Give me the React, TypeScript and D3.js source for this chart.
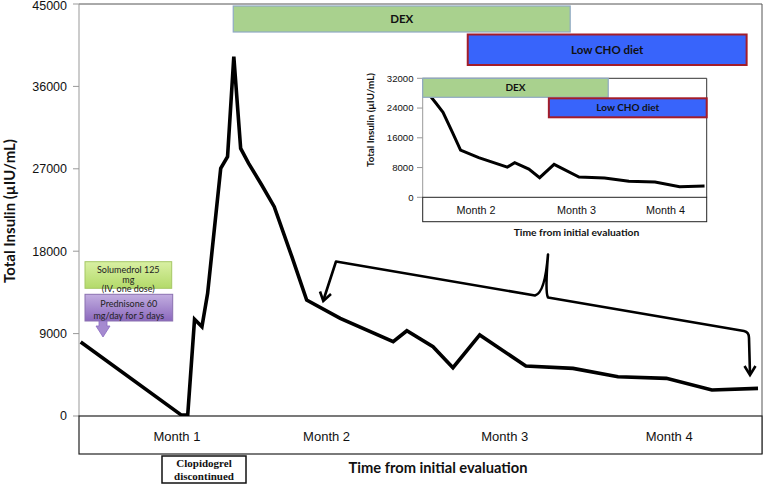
import React from "react";
import * as d3 from "d3";

// ---- data ----
const days = [0.3, 18.0, 19.1, 20.3, 21.6, 22.6, 24.9, 26.1, 27.2, 28.4, 29.8, 32.1, 34.3, 37.4, 40.0, 45.9, 55.2, 57.6, 62.2, 65.7, 70.4, 78.5, 86.8, 94.7, 103.2, 111.2, 119.3];
const insulin = [8080, 100, 100, 10560, 9750, 13400, 27050, 28320, 39240, 29230, 27600, 25230, 22860, 17400, 12670, 10670, 8110, 9310, 7570, 5280, 8850, 5460, 5200, 4290, 4110, 2840, 3020];

const yTicksMain = [0, 9000, 18000, 27000, 36000, 45000];
const yTicksInset = [0, 8000, 16000, 24000, 32000];

const monthLabels = ["Month 1", "Month 2", "Month 3", "Month 4"];
const monthDaysMain = [17.2, 43.5, 74.8, 103.7];
const insetMonthLabels = ["Month 2", "Month 3", "Month 4"];
const monthDaysInset = [45.0, 77.7, 106.6];

const barNames = ["DEX", "Low CHO diet"];
const barStartMain = [27.1, 68.3];
const barEndMain = [86.3, 117.3];
const barStartInset = [27.7, 68.7];
const barEndInset = [88.0, 120.0];

const FONT_SANS = "'Liberation Sans', Arial, sans-serif";
const FONT_CAL = "Lato, 'Open Sans', sans-serif";

export default function App() {
  // main scales
  const x = d3.scaleLinear().domain([0, 120]).range([79, 762]);
  const y = d3.scaleLinear().domain([0, 45000]).range([416, 4]);
  // inset scales
  const xi = d3.scaleLinear().domain([27.7, 120]).range([422.7, 706.7]);
  const yi = d3.scaleLinear().domain([0, 32000]).range([197.3, 78.3]);

  const pts = days.map((d, i) => [d, insulin[i]] as [number, number]);
  const lineMain = d3.line<[number, number]>().x((d) => x(d[0])).y((d) => y(d[1]))(pts) || "";
  const lineInset = d3.line<[number, number]>().x((d) => xi(d[0])).y((d) => yi(d[1]))(pts) || "";

  const barFill = ["#a9d18e", "#3864fb"];
  const barStroke = ["#8fa9c4", "#a31d2a"];
  const barStrokeW = [1.2, 2];

  const bracket =
    "M323.3,300.5 L336,261.5 L535,295.5 Q545,293 548,254.5 Q545,293 548,297.5 L744,331 Q749,332 749,338 L750,374";

  return (
    <svg
      width={766}
      height={488}
      style={{ position: "absolute", left: 0, top: 0, background: "#fff" }}
    >
      <defs>
        <linearGradient id="gGreen" x1="0" y1="0" x2="0" y2="1">
          <stop offset="0" stopColor="#d9f0a3" />
          <stop offset="1" stopColor="#b3da6a" />
        </linearGradient>
        <linearGradient id="gPurple" x1="0" y1="0" x2="0" y2="1">
          <stop offset="0" stopColor="#c2aee0" />
          <stop offset="1" stopColor="#8b68bd" />
        </linearGradient>
        <clipPath id="insetClip">
          <rect x={422.7} y={78.3} width={284} height={119} />
        </clipPath>
        <clipPath id="mainClip">
          <rect x={79} y={4} width={683} height={412} />
        </clipPath>
      </defs>

      {/* main plot frame */}
      <line x1={79} x2={762} y1={4} y2={4} stroke="#555" strokeWidth={1} />
      <line x1={762} x2={762} y1={4} y2={454} stroke="#555" strokeWidth={1} />
      <line x1={79} x2={79} y1={4} y2={416} stroke="#999" strokeWidth={1} />
      {yTicksMain.map((t) => (
        <g key={t}>
          <line x1={73} x2={79} y1={y(t)} y2={y(t)} stroke="#999" />
          <text x={67} y={Math.max(y(t), 6)} dy="0.35em" textAnchor="end" fontFamily={FONT_SANS} fontSize={12.5} fill="#111">
            {t}
          </text>
        </g>
      ))}
      {/* category box */}
      <rect x={79} y={416} width={683} height={38} fill="#fff" stroke="#222" strokeWidth={1.2} />
      {monthLabels.map((m, i) => (
        <text key={m} x={x(monthDaysMain[i])} y={441} textAnchor="middle" fontFamily={FONT_SANS} fontSize={13} fill="#111">
          {m}
        </text>
      ))}
      <text x={438} y={473} textAnchor="middle" fontFamily={FONT_CAL} fontWeight="bold" fontSize={14.7} fill="#111">
        Time from initial evaluation
      </text>
      <text
        transform="translate(15,211) rotate(-90)"
        textAnchor="middle"
        fontFamily={FONT_CAL}
        fontWeight="bold"
        fontSize={15}
        fill="#111"
      >
        Total Insulin (µIU/mL)
      </text>

      {/* main line */}
      <path d={lineMain} fill="none" stroke="#000" strokeWidth={3.6} strokeLinejoin="miter" strokeMiterlimit={10} clipPath="url(#mainClip)" />

      {/* main intervention bars */}
      {barNames.map((n, i) => {
        const top = i === 0 ? 6 : 34.5;
        const h = i === 0 ? 26 : 30.5;
        return (
          <g key={n}>
            <rect
              x={x(barStartMain[i])}
              y={top}
              width={x(barEndMain[i]) - x(barStartMain[i])}
              height={h}
              fill={barFill[i]}
              stroke={barStroke[i]}
              strokeWidth={barStrokeW[i]}
            />
            <text
              x={(x(barStartMain[i]) + x(barEndMain[i])) / 2}
              y={top + h / 2}
              dy="0.35em"
              textAnchor="middle"
              fontFamily={FONT_CAL}
              fontWeight="bold"
              fontSize={11.5}
              fill="#111"
            >
              {n}
            </text>
          </g>
        );
      })}

      {/* Solumedrol box */}
      <rect x={85} y={261.7} width={86.7} height={26.6} fill="url(#gGreen)" stroke="#a6c765" strokeWidth={1} />
      <g fontFamily={FONT_CAL} fontSize={9} fill="#222" textAnchor="middle">
        <text x={128.3} y={273}>Solumedrol 125</text>
        <text x={128.3} y={282.5}>mg</text>
        <text x={128.3} y={292}>(IV, one dose)</text>
      </g>
      {/* Prednisone box */}
      <rect x={85} y={294.3} width={87.7} height={26.7} fill="url(#gPurple)" stroke="#8a70b0" strokeWidth={1} />
      <g fontFamily={FONT_CAL} fontSize={9} fill="#222" textAnchor="middle">
        <text x={128.8} y={307}>Prednisone 60</text>
        <text x={128.8} y={318.5}>mg/day for 5 days</text>
      </g>
      <path d="M99,321 L107,321 L107,326 L110,326 L103,337 L96,326 L99,326 Z" fill="#a58ad0" stroke="#8a6cc0" strokeWidth={0.8} />

      {/* Clopidogrel box */}
      <rect x={162} y={456} width={84} height={27} fill="#fff" stroke="#111" strokeWidth={1.5} />
      <g fontFamily="'Liberation Serif', 'Times New Roman', serif" fontWeight="bold" fontSize={11} fill="#111" textAnchor="middle">
        <text x={204} y={467}>Clopidogrel</text>
        <text x={204} y={480}>discontinued</text>
      </g>

      {/* bracket with arrows */}
      <path d={bracket} fill="none" stroke="#000" strokeWidth={2.6} strokeLinejoin="round" />
      <path d="M320,291.5 L323.3,301 L331,294" fill="none" stroke="#000" strokeWidth={2.6} strokeLinejoin="miter" />
      <path d="M744.5,366 L750,375 L755.5,366" fill="none" stroke="#000" strokeWidth={2.6} strokeLinejoin="miter" />

      {/* ---- inset ---- */}
      <rect x={422.7} y={78.3} width={284} height={119} fill="#fff" />
      <line x1={422.7} x2={706.7} y1={78.3} y2={78.3} stroke="#333" strokeWidth={1} />
      <line x1={706.7} x2={706.7} y1={78.3} y2={197.3} stroke="#333" strokeWidth={1} />
      <line x1={422.7} x2={422.7} y1={78.3} y2={197.3} stroke="#999" strokeWidth={1} />
      {yTicksInset.map((t) => (
        <g key={t}>
          <line x1={417} x2={422.7} y1={yi(t)} y2={yi(t)} stroke="#999" />
          <text x={413.5} y={yi(t)} dy="0.35em" textAnchor="end" fontFamily={FONT_SANS} fontSize={9.6} fill="#111">
            {t}
          </text>
        </g>
      ))}
      <rect x={422.7} y={197.3} width={284} height={24.4} fill="#fff" stroke="#222" strokeWidth={1} />
      {insetMonthLabels.map((m, i) => (
        <text key={m} x={xi(monthDaysInset[i])} y={214} textAnchor="middle" fontFamily={FONT_SANS} fontSize={10.8} fill="#111">
          {m}
        </text>
      ))}
      <text x={576.5} y={235.5} textAnchor="middle" fontFamily={FONT_CAL} fontWeight="bold" fontSize={10.3} fill="#111">
        Time from initial evaluation
      </text>
      <text
        transform="translate(370.5,120) rotate(-90)"
        dy="0.35em"
        textAnchor="middle"
        fontFamily={FONT_CAL}
        fontWeight="bold"
        fontSize={9.8}
        fill="#111"
      >
        Total Insulin (µIU/mL)
      </text>
      <path d={lineInset} fill="none" stroke="#000" strokeWidth={3} strokeLinejoin="miter" clipPath="url(#insetClip)" />
      {barNames.map((n, i) => {
        const top = i === 0 ? 78.3 : 98.3;
        const h = 19;
        return (
          <g key={"in" + n}>
            <rect
              x={xi(barStartInset[i])}
              y={top}
              width={xi(barEndInset[i]) - xi(barStartInset[i])}
              height={h}
              fill={barFill[i]}
              stroke={barStroke[i]}
              strokeWidth={barStrokeW[i]}
            />
            <text
              x={(xi(barStartInset[i]) + xi(barEndInset[i])) / 2}
              y={top + h / 2}
              dy="0.35em"
              textAnchor="middle"
              fontFamily={FONT_CAL}
              fontWeight="bold"
              fontSize={10}
              fill="#111"
            >
              {n}
            </text>
          </g>
        );
      })}
    </svg>
  );
}
